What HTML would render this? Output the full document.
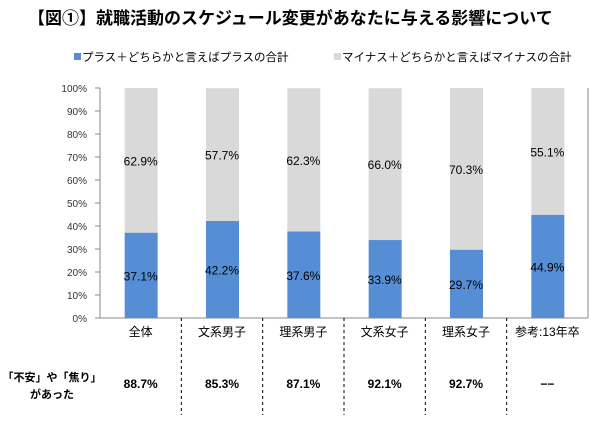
<!DOCTYPE html>
<html><head><meta charset="utf-8"><style>
body{margin:0;background:#fff;width:600px;height:420px;overflow:hidden;font-family:"Liberation Sans","Noto Sans CJK JP",sans-serif}
</style></head><body>
<svg width="600" height="420" font-family="Liberation Sans, Noto Sans CJK JP, sans-serif">
<text x="28" y="24" font-size="17" font-weight="bold" fill="#000">【図①】就職活動のスケジュール変更があなたに与える影響について</text>
<rect x="74" y="53" width="7" height="7" fill="#558ed5"/>
<text x="82" y="61" font-size="11.5">プラス＋どちらかと言えばプラスの合計</text>
<rect x="334" y="53" width="7" height="7" fill="#d9d9d9"/>
<text x="342" y="61" font-size="11.5">マイナス＋どちらかと言えばマイナスの合計</text>
<g id="plot"></g>
</svg>
<script>
const categories=["全体","文系男子","理系男子","文系女子","理系女子","参考:13年卒"];
const plusValues=[37.1,42.2,37.6,33.9,29.7,44.9];
const minusValues=[62.9,57.7,62.3,66.0,70.3,55.1];
const anxietyValues=["88.7%","85.3%","87.1%","92.1%","92.7%","−−"];
const yTicks=[0,10,20,30,40,50,60,70,80,90,100];
const NS="http://www.w3.org/2000/svg";
const g=document.getElementById('plot');
const L=100,R=588,T=88,B=318;
const y=v=>B-(B-T)*v/100;
const bw=(R-L)/categories.length;
const cx=i=>L+bw*(i+0.5);
function mk(t,a,txt){const e=document.createElementNS(NS,t);for(const k in a)e.setAttribute(k,a[k]);if(txt!=null)e.textContent=txt;g.appendChild(e);return e;}
yTicks.forEach(v=>{
 const t=mk('text',{x:L-13,y:y(v)+4,'font-size':10,'text-anchor':'end',fill:'#333'},v+'%');
 
 
 const l=mk('line',{x1:L-5,x2:L,y1:y(v),y2:y(v),stroke:'#888'});
 
 
});
const ax=mk('line',{x1:L,x2:L,y1:T,y2:B,stroke:'#888'});


const xa=mk('line',{x1:L,x2:R,y1:B,y2:B,stroke:'#888'});


const rb=mk('line',{x1:R,x2:R,y1:T,y2:B,stroke:'#888'});


categories.forEach((c,i)=>{
 const x0=cx(i)-16;
 const p=mk('rect',{x:x0,y:y(plusValues[i]),width:33,height:B-y(plusValues[i]),fill:'#558ed5'});
 
 
 const m=mk('rect',{x:x0,y:y(plusValues[i]+minusValues[i]),width:33,height:y(plusValues[i])-y(plusValues[i]+minusValues[i]),fill:'#d9d9d9'});
 
 
 const pl=mk('text',{x:cx(i),y:y(plusValues[i]/2)+5,'font-size':12,'text-anchor':'middle'},plusValues[i].toFixed(1)+'%');
 
 
 const ml=mk('text',{x:cx(i),y:y(plusValues[i]+minusValues[i]/2)+5,'font-size':12,'text-anchor':'middle'},minusValues[i].toFixed(1)+'%');
 
 
 const cl=mk('text',{x:cx(i),y:336,'font-size':12,'text-anchor':'middle'},c);
 
 
 const al=mk('text',{x:cx(i),y:388,'font-size':12,'font-weight':'bold','text-anchor':'middle'},anxietyValues[i]);
 
 
 if(i>0){
  const d=mk('line',{x1:L+bw*i,x2:L+bw*i,y1:B,y2:415,stroke:'#000','stroke-dasharray':'3,3'});
  
  
 }
});
const r1=mk('text',{x:52,y:381,'font-size':11,'font-weight':'bold','text-anchor':'middle'},'「不安」や「焦り」');


const r2=mk('text',{x:52,y:398,'font-size':11,'font-weight':'bold','text-anchor':'middle'},'があった');


</script>
</body></html>
